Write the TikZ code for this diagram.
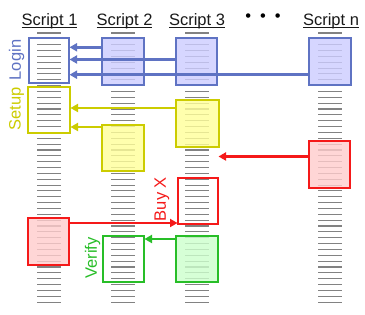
\documentclass[tikz,border=0pt]{standalone}
\usepackage{fontspec}
\setmainfont{Liberation Sans}
\usetikzlibrary{arrows.meta}
\definecolor{bstroke}{RGB}{95,115,195}
\definecolor{bfill}{RGB}{204,204,255}
\definecolor{ystroke}{RGB}{204,204,0}
\definecolor{yfill}{RGB}{255,255,153}
\definecolor{rstroke}{RGB}{245,25,25}
\definecolor{rfill}{RGB}{255,204,204}
\definecolor{gstroke}{RGB}{40,190,40}
\definecolor{gfill}{RGB}{204,255,204}
\definecolor{dashc}{RGB}{130,130,130}
\newcommand\myul[1]{\setbox0\hbox{#1}\rlap{\rule[-2pt]{\wd0}{0.9pt}}\box0}
\tikzset{
  bigfont/.style={font=\fontsize{16.5}{18}\selectfont},
  title/.style={bigfont, anchor=base, inner sep=0pt, text=black!90},
  lbl/.style={bigfont, rotate=90, inner sep=0pt},
  box/.style={draw, line width=2pt, minimum width=41pt, minimum height=46pt, inner sep=0pt},
  obox/.style={box},
  fbox/.style={box, fill opacity=0.8, text opacity=1},
  arr/.style={line width=2.8pt, -{Triangle[length=7.5pt,width=8pt]}, shorten >=-0.5pt},
  dashline/.style={draw=dashc, line width=1.1pt}
}
\begin{document}
\begin{tikzpicture}[x=1pt,y=-1pt]
\useasboundingbox[fill=white] (0,0) rectangle (365,315);
% dash columns
\foreach \cx in {49,123,197,330}{
  \foreach \i in {0,...,46}{
    \draw[dashline] (\cx-12,33+\i*5.85) -- (\cx+12,33+\i*5.85);
  }
}
% titles
\node[title] (t1) at (49.5,25.7) {\myul{Script 1}};
\node[title] (t2) at (124.5,25.7) {\myul{Script 2}};
\node[title] (t3) at (197,25.7) {\myul{Script 3}};
\node[title] (tn) at (331,25.7) {\myul{Script n}};
\node[bigfont, inner sep=0pt] (dots) at (263,18) {•\hspace{9pt}•\hspace{9pt}•};
% login boxes
\node[obox, draw=bstroke, minimum width=40pt, minimum height=45pt] (l1) at (49,60.5) {};
\node[fbox, draw=bstroke, fill=bfill, minimum width=42pt, minimum height=47pt] (l2) at (123,61.5) {};
\node[fbox, draw=bstroke, fill=bfill, minimum width=41pt, minimum height=47pt] (l3) at (196.5,61.5) {};
\node[fbox, draw=bstroke, fill=bfill, minimum width=42pt, minimum height=47pt] (ln) at (330,61.5) {};
% setup boxes
\node[obox, draw=ystroke, minimum width=42pt] (y1) at (49,110) {};
\node[fbox, draw=ystroke, fill=yfill, minimum width=43pt, minimum height=47pt] (y3) at (197.5,123.5) {};
\node[fbox, draw=ystroke, fill=yfill, minimum width=42pt] (y2) at (123,148) {};
% buy boxes
\node[fbox, draw=rstroke, fill=rfill, minimum height=47pt] (rn) at (329.5,164.5) {};
\node[obox, draw=rstroke, minimum width=40pt] (r3) at (198,201) {};
\node[fbox, draw=rstroke, fill=rfill, minimum height=47pt] (r1) at (48.5,241.5) {};
% verify boxes
\node[fbox, draw=gstroke, fill=gfill, minimum width=42pt] (g3) at (197,259) {};
\node[obox, draw=gstroke] (g2) at (123.5,259) {};
% labels
\node[lbl, text=bstroke] (login) at (16.5,60) {Login};
\node[lbl, text=ystroke] (setup) at (16.5,109) {Setup};
\node[lbl, text=rstroke] (buy) at (162,199) {Buy X};
\node[lbl, text=gstroke] (verify) at (92.5,258) {Verify};
% arrows
\coordinate (ba) at ([yshift=-10.3pt]l2.north west);
\coordinate (bb) at ([yshift=-22.5pt]l3.north west);
\coordinate (bc) at ([yshift=-37.7pt]ln.north west);
\draw[arr, bstroke] (ba) -- (ba -| l1.east);
\draw[arr, bstroke] (bb) -- (bb -| l1.east);
\draw[arr, bstroke] (bc) -- (bc -| l1.east);
\coordinate (ya) at ([yshift=-9pt]y3.north west);
\coordinate (yb) at ([yshift=-3pt]y2.north west);
\draw[arr, ystroke] (ya) -- (ya -| y1.east);
\draw[arr, ystroke] (yb) -- (yb -| y1.east);
\coordinate (ra) at ([yshift=-16.5pt]rn.north west);
\coordinate (rb) at ([yshift=-6pt]r1.north east);
\draw[arr, rstroke] (ra) -- (ra -| r3.east);
\draw[arr, rstroke] (rb) -- (rb -| r3.west);
\coordinate (ga) at ([yshift=-4pt]g3.north west);
\draw[arr, gstroke] (ga) -- (ga -| g2.east);
\end{tikzpicture}
\end{document}
